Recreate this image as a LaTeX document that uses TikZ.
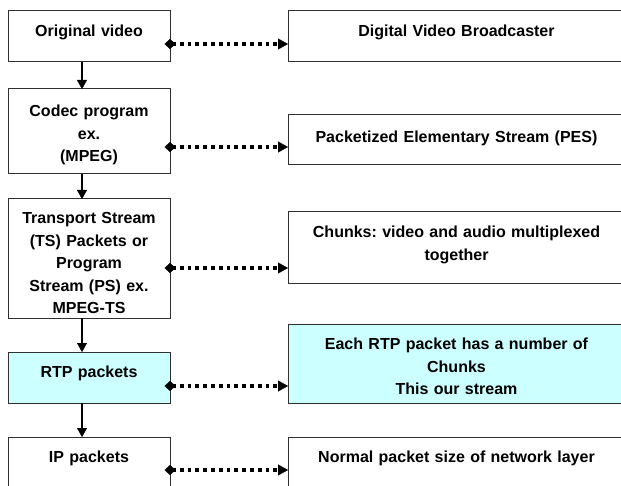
\documentclass[tikz,border=0pt]{standalone}
\usepackage{fontspec}
\setmainfont{Liberation Sans}
\usetikzlibrary{arrows.meta}
\definecolor{cyanfill}{HTML}{CCFFFF}
\definecolor{edgecol}{HTML}{303030}
\frenchspacing
\begin{document}
\begin{tikzpicture}[x=1bp,y=-1bp,
  box/.style={draw=edgecol,line width=1bp,inner sep=0pt,outer sep=0pt,anchor=north west},
  lbox/.style={box,minimum width=162bp},
  rbox/.style={box,minimum width=337bp},
  txt/.style={anchor=base,inner sep=0pt,outer sep=0pt,align=center,text width=#1,
    font=\bfseries\fontsize{16bp}{22.5bp}\selectfont},
  varrow/.style={draw=black,line width=1.3bp,-{Triangle[length=9bp,width=10bp,line width=0.3bp]}},
  dotarrow/.style={draw=black,line width=3.6bp,dash pattern=on 3.8bp off 4bp,
    {Diamond[length=11bp,width=10bp,line width=0.3bp]}-{Triangle[length=10bp,width=11bp,line width=0.3bp]}}
]
\useasboundingbox (0,0) rectangle (621,486);
\clip (0,0) rectangle (621,486);

% left column
\node[lbox,minimum height=51bp] (L1) at (8,11) {};
\node[lbox,minimum height=85bp] (L2) at (8,89) {};
\node[lbox,minimum height=119bp] (L3) at (8,199) {};
\node[lbox,minimum height=51bp,fill=cyanfill] (L4) at (8,352) {};
\node[lbox,minimum height=83bp] (L5) at (8,437) {};

% right column
\node[rbox,minimum height=51bp] (R1) at (288,11) {};
\node[rbox,minimum height=50bp] (R2) at (288,115) {};
\node[rbox,minimum height=71bp] (R3) at (288,212) {};
\node[rbox,minimum height=79bp,fill=cyanfill] (R4) at (288,324) {};
\node[rbox,minimum height=83bp] (R5) at (288,437) {};

% texts
\node[txt=156bp] (tL1) at ([yshift=-25.7bp]L1.north) {Original video};
\node[txt=156bp] (tL2) at ([yshift=-28bp]L2.north) {Codec program\\ex.\\(MPEG)};
\node[txt=156bp] (tL3) at ([yshift=-24.7bp]L3.north) {Transport Stream\\(TS) Packets or\\Program\\Stream (PS) ex.\\MPEG-TS};
\node[txt=156bp] (tL4) at ([yshift=-25.7bp]L4.north) {RTP packets};
\node[txt=156bp] (tL5) at ([yshift=-25.7bp]L5.north) {IP packets};

\node[txt=330bp] (tR1) at ([yshift=-25.7bp]R1.north) {Digital Video Broadcaster};
\node[txt=330bp] (tR2) at ([yshift=-27.7bp]R2.north) {Packetized Elementary Stream (PES)};
\node[txt=330bp] (tR3) at ([yshift=-25.7bp]R3.north) {Chunks: video and audio multiplexed\\together};
\node[txt=330bp] (tR4) at ([yshift=-25.7bp]R4.north) {Each RTP packet has a number of\\Chunks\\This our stream};
\node[txt=330bp] (tR5) at ([yshift=-25.7bp]R5.north) {Normal packet size of network layer};

% vertical arrows
\draw[varrow] ([xshift=-7bp]L1.south) -- ([xshift=-7bp]L2.north);
\draw[varrow] ([xshift=-7bp]L2.south) -- ([xshift=-7bp]L3.north);
\draw[varrow] ([xshift=-7bp]L3.south) -- ([xshift=-7bp]L4.north);
\draw[varrow] ([xshift=-7bp]L4.south) -- ([xshift=-7bp]L5.north);

% dotted connectors
\draw[dotarrow] ([xshift=-5.5bp,yshift=18bp]L1.south east) coordinate (s1) -- (s1 -| R1.west);
\draw[dotarrow] ([xshift=-5.5bp,yshift=27bp]L2.south east) coordinate (s2) -- (s2 -| R2.west);
\draw[dotarrow] ([xshift=-5.5bp,yshift=50bp]L3.south east) coordinate (s3) -- (s3 -| R3.west);
\draw[dotarrow] ([xshift=-5.5bp,yshift=17bp]L4.south east) coordinate (s4) -- (s4 -| R4.west);
\draw[dotarrow] ([xshift=-5.5bp,yshift=-33bp]L5.north east) coordinate (s5) -- (s5 -| R5.west);
\end{tikzpicture}
\end{document}
